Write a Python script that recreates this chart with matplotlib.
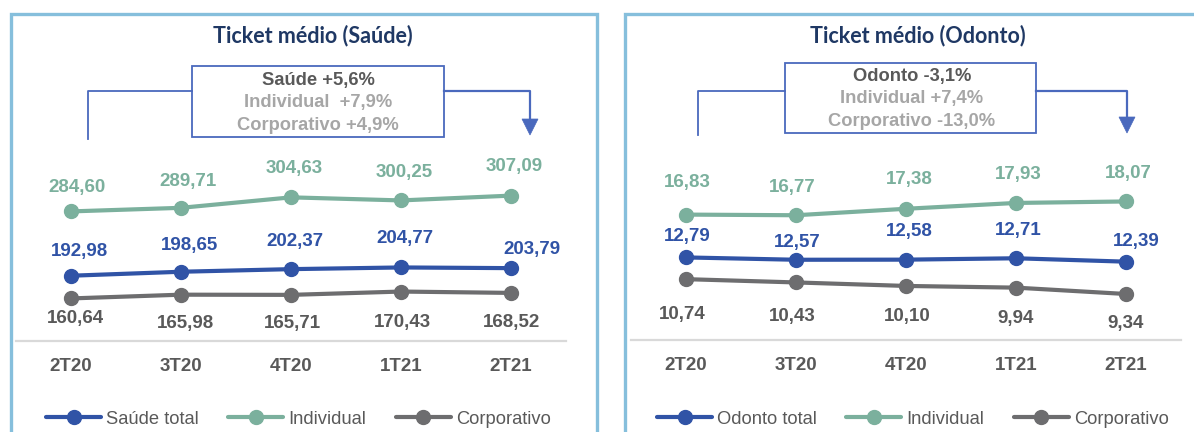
import matplotlib
matplotlib.use("Agg")
import matplotlib.pyplot as plt
from matplotlib.lines import Line2D
from matplotlib.patches import Rectangle, Polygon

# ---- data -------------------------------------------------------------
quarters = ["2T20", "3T20", "4T20", "1T21", "2T21"]

saude_total = [192.98, 198.65, 202.37, 204.77, 203.79]
saude_individual = [284.60, 289.71, 304.63, 300.25, 307.09]
saude_corporativo = [160.64, 165.98, 165.71, 170.43, 168.52]

odonto_total = [12.79, 12.57, 12.58, 12.71, 12.39]
odonto_individual = [16.83, 16.77, 17.38, 17.93, 18.07]
odonto_corporativo = [10.74, 10.43, 10.10, 9.94, 9.34]

saude_title = "Ticket médio (Saúde)"
odonto_title = "Ticket médio (Odonto)"
saude_box = ["Saúde +5,6%", "Individual  +7,9%", "Corporativo +4,9%"]
odonto_box = ["Odonto -3,1%", "Individual +7,4%", "Corporativo -13,0%"]
saude_legend = ["Saúde total", "Individual", "Corporativo"]
odonto_legend = ["Odonto total", "Individual", "Corporativo"]

# ---- style ------------------------------------------------------------
BLUE = "#3053a6"
TEAL = "#7bb09d"
GRAY = "#6d6d6f"
LABEL_GRAY = "#595959"
LIGHT_TXT = "#a6a6a6"
NAVY = "#1f3864"
FRAME = "#86bfdc"
CONNECT = "#4a69bd"

W, H = 1194, 432
fig = plt.figure(figsize=(W / 100, H / 100), dpi=100)
fig.patch.set_facecolor("white")
plt.rcParams["font.family"] = ["Liberation Sans", "DejaVu Sans"]


def fx(x):
    return x / W


def fy(y):
    return 1 - y / H


# per-label offsets in pixels (dx, dy up) for readability
saude_offsets = {
    "total": [(9, 24), (9, 26), (4, 28), (4, 29), (21, 19)],
    "ind": [(6, 24), (7, 26), (3, 29), (3, 28), (3, 29)],
    "corp": [(4, -20), (4, -29), (1, -29), (1, -31), (1, -30)],
}
odonto_offsets = {
    "total": [(1, 21), (1, 17), (3, 28), (2, 28), (10, 20)],
    "ind": [(1, 32), (-4, 28), (3, 29), (2, 28), (2, 28)],
    "corp": [(-4, -35), (-4, -34), (1, -31), (0, -31), (0, -30)],
}


def panel(x0, x1, y_axis, ylo, px_per_unit, total, ind, corp, offsets,
          legend_labels, legend_x):
    top = 150
    ax = fig.add_axes([fx(x0), fy(y_axis), fx(x1 - x0), (y_axis - top) / H])
    ax.set_facecolor("none")
    ax.set_xlim(-0.5, 4.5)
    ax.set_ylim(ylo, ylo + (y_axis - top) / px_per_unit)
    xs = range(len(quarters))
    series = [(total, BLUE, BLUE, "total"),
              (ind, TEAL, TEAL, "ind"),
              (corp, GRAY, LABEL_GRAY, "corp")]
    handles = []
    for vals, col, lcol, key in series:
        h, = ax.plot(xs, vals, color=col, lw=3, marker="o", ms=10,
                     solid_capstyle="round", zorder=3)
        handles.append(h)
        for i, v in enumerate(vals):
            dx, dy = offsets[key][i]
            ax.annotate(f"{v:.2f}".replace(".", ","), (i, v),
                        xytext=(dx, dy), textcoords="offset pixels",
                        ha="center", va="center", fontsize=13.5,
                        fontweight="bold", color=lcol)
    for s in ["top", "left", "right"]:
        ax.spines[s].set_visible(False)
    ax.spines["bottom"].set_color("#d9d9d9")
    ax.spines["bottom"].set_linewidth(1.6)
    ax.set_yticks([])
    ax.set_xticks(list(xs))
    ax.set_xticklabels(quarters, fontsize=13.5, fontweight="bold",
                       color=LABEL_GRAY)
    ax.tick_params(axis="x", length=0, pad=12)
    fig.legend(handles, legend_labels, loc="center left",
               bbox_to_anchor=(fx(legend_x), fy(419)),
               bbox_transform=fig.transFigure, ncol=3, frameon=False,
               fontsize=13.2, handlelength=3.0, handletextpad=0.28,
               columnspacing=1.6, borderpad=0, borderaxespad=0,
               labelcolor=LABEL_GRAY)
    return ax


def frame(x0, x1):
    fig.patches.append(Rectangle((fx(x0), fy(470)), fx(x1 - x0),
                                 (470 - 14) / H, transform=fig.transFigure,
                                 fill=False, ec=FRAME, lw=2.4, zorder=0))


def header(title, tx, lines, box, conn_left_x, conn_right_x, text_x,
           text_ys, arrow_y):
    bx0, bx1, by0, by1 = box
    fig.text(fx(tx), fy(35.5), title, ha="center", va="center",
             fontsize=15.5, fontweight="bold", color=NAVY, family=["Lato"])
    fig.patches.append(Rectangle((fx(bx0), fy(by1)), fx(bx1 - bx0),
                                 (by1 - by0) / H, transform=fig.transFigure,
                                 fill=False, ec=CONNECT, lw=1.3))
    for txt, y, c in zip(lines, text_ys, [LABEL_GRAY, LIGHT_TXT, LIGHT_TXT]):
        fig.text(fx(text_x), fy(y), txt, ha="center", va="center",
                 fontsize=13.2, fontweight="bold", color=c)
    fig.lines.append(Line2D([fx(conn_left_x), fx(conn_left_x), fx(bx0)],
                            [fy(by1 + 2), fy(91), fy(91)],
                            transform=fig.transFigure, color=CONNECT, lw=1.3))
    fig.lines.append(Line2D([fx(bx1), fx(conn_right_x), fx(conn_right_x)],
                            [fy(91), fy(91), fy(arrow_y - 14)],
                            transform=fig.transFigure, color=CONNECT, lw=1.6))
    fig.patches.append(Polygon([(fx(conn_right_x - 8), fy(arrow_y - 16)),
                                (fx(conn_right_x + 8), fy(arrow_y - 16)),
                                (fx(conn_right_x), fy(arrow_y))],
                               closed=True, transform=fig.transFigure,
                               fc=CONNECT, ec=CONNECT, lw=0.5))


frame(11, 597)
frame(625, 1240)

panel(16, 566, 341, 100, 0.702, saude_total, saude_individual,
      saude_corporativo, saude_offsets, saude_legend, 46)
panel(631, 1181, 340, 5, 10.6, odonto_total, odonto_individual,
      odonto_corporativo, odonto_offsets, odonto_legend, 657)

header(saude_title, 313, saude_box, (192, 444, 66, 137), 88, 530, 318,
       (81, 103, 125), 135)
header(odonto_title, 918, odonto_box, (785, 1036, 63, 133), 698, 1127, 912,
       (77, 99, 121), 133)

fig.savefig("out.png", dpi=100, facecolor="white")
